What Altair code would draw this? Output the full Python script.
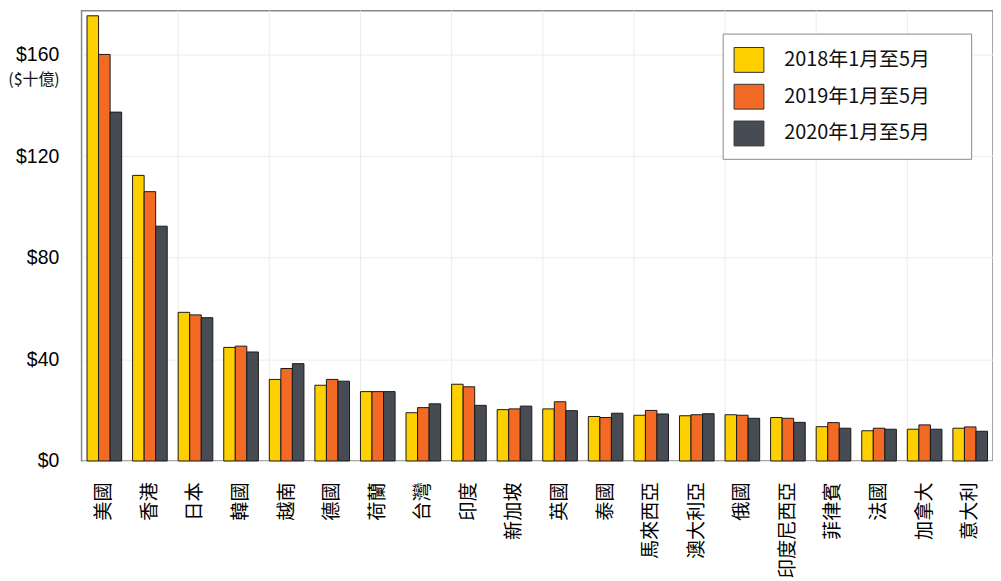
import altair as alt
import pandas as pd

countries = ["美國", "香港", "日本", "韓國", "越南", "德國", "荷蘭", "台灣", "印度", "新加坡",
             "英國", "泰國", "馬來西亞", "澳大利亞", "俄國", "印度尼西亞", "菲律賓", "法國", "加拿大", "意大利"]
series = ["2018年1月至5月", "2019年1月至5月", "2020年1月至5月"]
v2018 = [175.2, 112.4, 58.5, 44.7, 32.1, 29.8, 27.3, 19.0, 30.2, 20.2, 20.5, 17.5, 18.0, 17.8, 18.2, 17.1, 13.5, 11.9, 12.5, 12.9]
v2019 = [160.0, 106.0, 57.5, 45.2, 36.4, 32.1, 27.3, 21.0, 29.2, 20.5, 23.3, 17.1, 19.9, 18.2, 18.0, 16.8, 15.1, 12.9, 14.2, 13.4]
v2020 = [137.3, 92.4, 56.4, 42.9, 38.3, 31.4, 27.3, 22.5, 21.9, 21.6, 19.8, 18.8, 18.5, 18.6, 16.8, 15.2, 12.9, 12.5, 12.5, 11.7]
colors = ["#FFD000", "#F26A24", "#474B53"]
y_ticks = [0, 40, 80, 120, 160]
unit_label = "($十億)"

rows = []
for s, vals in zip(series, [v2018, v2019, v2020]):
    for c, v in zip(countries, vals):
        rows.append({"country": c, "series": s, "value": v})
df = pd.DataFrame(rows)

grid_df = pd.DataFrame({"country": [c for i, c in enumerate(countries) if i % 2 == 0 and i > 0]})
unit_df = pd.DataFrame({"label": [unit_label]})

CJK = "Noto Sans CJK TC"

xscale = alt.Scale(domain=countries, paddingInner=0.24, paddingOuter=0.12)
yscale = alt.Scale(domain=[0, 177.2], nice=False)

xaxis = alt.Axis(labelAngle=270, labelAlign="right", labelBaseline="middle",
                 labelFont=CJK, labelFontSize=19.3, labelColor="#000",
                 labelPadding=21, ticks=False, domain=False, grid=False)

grid = alt.Chart(grid_df).mark_rule(color="#ececec", strokeWidth=1).encode(
    x=alt.X("country:N", scale=xscale, bandPosition=0, title=None, axis=xaxis)
)

bars = alt.Chart(df).mark_bar(stroke="#1a1a1a", strokeWidth=1).encode(
    x=alt.X("country:N", scale=xscale, title=None, axis=xaxis),
    xOffset=alt.XOffset("series:N", sort=series),
    y=alt.Y("value:Q", scale=yscale, title=None,
            axis=alt.Axis(values=y_ticks, format="$d", ticks=False, domain=False,
                          labelFont="Liberation Sans", labelFontSize=19.5, labelColor="#000",
                          labelPadding=23, gridColor="#ececec", gridWidth=1,
                          minExtent=72, maxExtent=72)),
    color=alt.Color("series:N", sort=series,
                    scale=alt.Scale(domain=series, range=colors),
                    legend=alt.Legend(title=None, orient="none", legendX=645, legendY=23,
                                      symbolType="M-1,-0.833H1V0.833H-1Z", symbolSize=900,
                                      symbolStrokeColor="#333", symbolStrokeWidth=1,
                                      labelFont=CJK, labelFontSize=20, labelColor="#111",
                                      labelOffset=20, rowPadding=7, padding=11,
                                      labelLimit=400,
                                      labelExpr="datum.label + '\u2800\u2800'",
                                      fillColor="white", strokeColor="#888")),
)

unit = alt.Chart(unit_df).mark_text(align="right", baseline="middle", font=CJK,
                                     fontSize=16, color="#111").encode(
    text="label:N",
    y=alt.datum(150),
    x=alt.value(-22),
)

chart = alt.layer(grid, bars, unit).properties(
    width=917, height=453, padding=0
).configure_view(stroke="#888", strokeWidth=1.5)

chart.save("out.html", embed_options={"renderer": "svg", "actions": False})
